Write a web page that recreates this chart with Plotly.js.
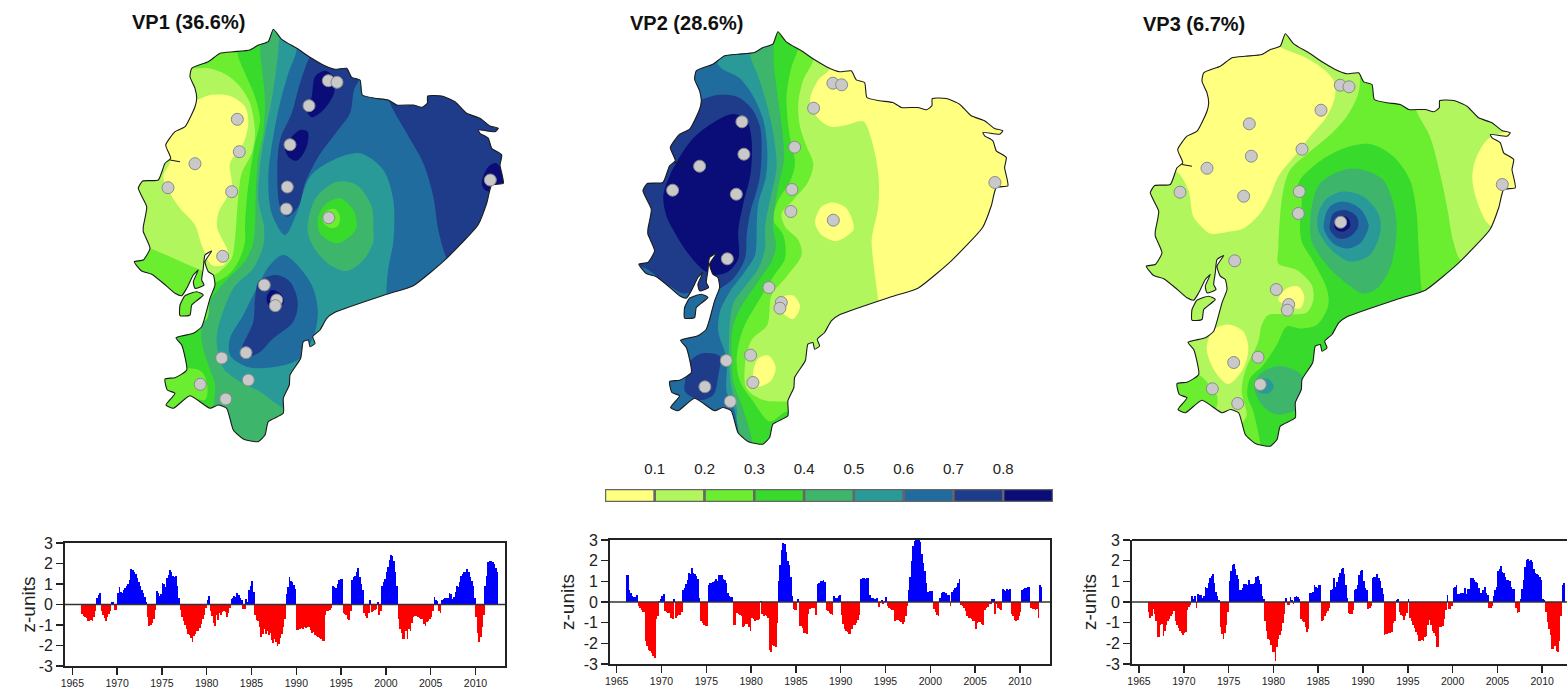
<!DOCTYPE html>
<html><head><meta charset="utf-8">
<script src="https://cdn.plot.ly/plotly-3.0.1.min.js"></script>
<style>html,body{margin:0;padding:0;background:#fff}</style></head>
<body><div id="chart" style="width:1567px;height:691px"></div>
<script>
const levelLabels = ["0.1","0.2","0.3","0.4","0.5","0.6","0.7","0.8"];
const levelTicks = [0.1,0.2,0.3,0.4,0.5,0.6,0.7,0.8];
const levelMids = [0.05,0.15,0.25,0.35,0.45,0.55,0.65,0.75,0.85];
const levelColors = ["#FFFF80","#B2F65E","#6CEE30","#38DA2B","#3DB66C","#2A9A99","#206C9F","#1E3C8A","#0A0D78"];
const titles = ["VP1 (36.6%)","VP2 (28.6%)","VP3 (6.7%)"];

// map outline, map units
const coast = [[273.3,29.3],[281.7,39.3],[296.7,48.3],[311.7,58.3],[323.3,65],[335,69.3],[346.7,68.3],[351.7,77.3],[360,80],[362.3,95],[375,98.3],[388.3,100],[396.7,105],[413.3,105],[421.7,107.3],[427.3,103.3],[427.7,96],[441.7,96],[455,101.7],[466.7,113.3],[480,118.3],[490,126],[498.3,128.3],[495,131.7],[478.3,130],[480,133.3],[488.3,138.3],[491.7,148.3],[501.7,155],[500,165],[503.3,183.3],[491.7,185],[486.7,203.3],[478,225],[446.7,258.3],[413.3,285.7],[386.7,294.3],[335,312.3],[326.7,318.3],[320,330],[312.7,336.7],[315,343.3],[310,346.7],[308.3,340],[303.3,341.7],[300.7,358.3],[290,375],[289.3,385],[283.3,398.3],[283.3,413.3],[268.3,421.7],[265,435],[258.3,441.7],[243.3,439],[233.3,430],[226.7,408.3],[218.3,405],[210,408.3],[190,395.7],[173.3,408.3],[166,405],[175,393.3],[167.3,390],[165,379],[175,377.7],[186.7,370],[181.7,345],[176,337.7],[193.3,333.3],[201.7,326.7],[210,298.3],[215,285],[213.3,275],[208.3,271.7],[205,261.7],[211.7,251],[205,255],[203.3,268.3],[201.7,280],[204,285],[195,288.3],[193.3,281.7],[198.3,270],[193.3,275],[186.7,288.3],[181.7,295.7],[175,293.3],[163.3,283.3],[151.7,274.3],[141.7,271],[134.3,261.7],[143.3,260],[150,248.3],[143.3,231.7],[143.3,226.7],[146.7,206.7],[138.3,188.3],[142.7,181],[158.3,180],[165,163.3],[170.7,158.3],[165.7,145],[175,131.7],[185,126.7],[195,106.7],[196.7,98.3],[195,88.3],[190,76.7],[191.7,68.3],[208.3,61.7],[220,53.3],[233.3,51.7],[250,50],[258.3,45],[268.3,41.7],[273.3,29.3]];
const island = [[180,305],[185,295.7],[196.7,291.7],[203.3,295],[191.7,305],[190,315],[180,315.7],[180,305]];
const pier = [[170,160],[180,161.7]];
const stationX = [328.3,337,309,237.3,290,239.3,195,168,231.7,287.3,286.3,328.7,490.3,222.7,264.3,276.7,275.3,246,221.7,248.3,200.3,225.7];
const stationY = [80.7,82.3,105.7,119.3,144.7,151.7,163.7,187.7,191.7,187,209,217.7,180,256.3,285,300,305.7,352.7,358,380,384.3,399];

// VP1 loading bands
const vp1_5 = [[280,20],[279.3,37.3],[277.3,60],[271.7,100],[265,133.3],[260,166.7],[258.3,200],[264,226.7],[263.3,245],[253.3,268.3],[233.3,288.3],[217.3,331.7],[217.3,348.3],[223.3,368.3],[240,381.7],[260,391.7],[273.3,401.7],[285,411.7],[290,460],[120,460],[120,20]];
const vp1_4 = [[262,20],[260,46.7],[261.7,66.7],[265,100],[263.3,133.3],[258.3,156.7],[256,186.7],[255,225],[252.7,245],[243.3,263.3],[226.7,280],[211.7,298.3],[201.7,328.3],[201.7,341.7],[208.3,365],[215,385],[213.3,408.3],[213,460],[120,460],[120,20]];
const vp1_3a = [[236,20],[237.3,53.3],[245,73.3],[255,96.7],[260,120],[255,143.3],[250,173.3],[246.7,200],[245,226.7],[245,241.7],[238.3,261.7],[228.3,275],[215,283.3],[210,290],[206,320],[170,322],[120,322],[120,20]];
const vp1_3b = [[160,378],[188.3,368.3],[201.7,371.7],[207.3,385],[205,400],[186.7,396.7],[173.3,410],[160,412]];
const vp1_2 = [[160,60],[190,68.3],[208.3,68.3],[226.7,75],[240,86.7],[250,103.3],[255,133.3],[251.7,153.3],[241.7,173.3],[238.3,196.7],[236,226.7],[235,238.3],[231.7,258.3],[223.3,268.3],[213.3,275],[196.7,268.3],[170,256.7],[150,248.3],[120,240],[120,60]];
const vp1_1 = [[195,100],[210,95],[230,96],[245,106.7],[248.3,123.3],[243.3,143.3],[230,163.3],[231.7,186.7],[218.3,213.3],[217.3,228.3],[228.3,253.3],[223.3,265],[211.7,265],[201.7,245],[195,225],[180,208.3],[170,193.3],[163.3,176.7],[170,160],[150,150],[150,100]];
const vp1_7 = [[292,35],[296.7,48.3],[288.3,73.3],[280,103.3],[272.7,140],[268.3,176.7],[271.7,213.3],[285,235],[296.7,213.3],[310,176.7],[333.3,160],[360,153.3],[383.3,170],[393.3,200],[393.3,241.7],[388.3,268.3],[386.7,294.3],[390,305],[520,300],[520,20],[292,20]];
const vp1_8a = [[310,56.7],[300,83.3],[291.7,113.3],[280,140],[277.3,173.3],[280,206.7],[286.7,216.7],[298.3,206.7],[305,183.3],[318.3,156.7],[336.7,131.7],[350,113.3],[354,90],[360,78],[365,60],[320,45]];
const vp1_8b = [[390,103.3],[406.7,133.3],[423.3,163.3],[433.3,196.7],[438.3,230],[446.7,258.3],[455,270],[530,270],[530,85],[385,85]];
const vp1_9a = [[315,76.7],[325,70.7],[333.3,76.7],[334,93.3],[323.3,110],[311.7,117.3],[306.7,110],[311.7,96.7]];
const vp1_9b = [[286.7,143.3],[300,130],[307.7,131.7],[306.7,146.7],[296.7,160.7],[288.3,156.7],[285,148.3]];
const vp1_9c = [[481.7,183.3],[488.3,166.7],[496.7,163.3],[505,185],[491.7,191.7],[485,190]];
const vp1_5b = [[308.3,220],[316.7,196.7],[336.7,181.7],[356.7,185],[371.7,206.7],[373.3,230],[373.3,241.7],[363.3,260],[346.7,271],[330,265],[316.7,251.7],[308.3,235]];
const vp1_4b = [[318.3,216.7],[326.7,203.3],[340,198.3],[353.3,210],[356.7,226.7],[351.7,235],[336.7,243.3],[320,233.3]];
const vp1_3c = [[323,222],[325,212],[335,209],[340,217],[338,226],[331,228]];
const vp1_7c = [[284,255],[310,281.7],[317.7,308.3],[315,331.7],[300,358.3],[276.7,366.7],[246.7,366.7],[230,355],[230,338.3],[243.3,315],[256.7,288.3],[270,265]];
const vp1_8c = [[263.3,278.3],[276.7,275],[290,281.7],[297.7,301.7],[293.3,321.7],[273.3,338.3],[258.3,353.3],[245,356.7],[241,351.7],[253.3,321.7],[255,298.3],[258.3,281.7]];
const vp1_9d = [[266.7,296.7],[271.7,290],[280,293.3],[284,301.7],[276.7,308.3],[268.3,305]];
const vp1Layers = [[4,vp1_5],[3,vp1_4],[2,vp1_3a],[2,vp1_3b],[1,vp1_2],[0,vp1_1],[6,vp1_7],[7,vp1_8a],[7,vp1_8b],[8,vp1_9a],[8,vp1_9b],[8,vp1_9c],[4,vp1_5b],[3,vp1_4b],[2,vp1_3c],[6,vp1_7c],[7,vp1_8c],[8,vp1_9d]];

// VP2 loading bands
const vp2_2 = [[330,20],[325.4,65.8],[313.7,77.5],[305.4,97.5],[312,114],[325.4,124],[342,122.5],[358.7,119],[367,137.5],[373.7,171],[373.7,204],[368.7,227.5],[367,239],[373.7,297.5],[375,310],[350,470],[100,470],[100,20]];
const vp2_1a = [[310.7,217.5],[317,204],[328.7,200],[342,206],[348.7,221],[348.7,227.5],[332,238.5],[317,232.5],[311,222.5]];
const vp2_1b = [[278.7,294],[288.7,293],[295.4,304],[288.7,316.5],[280.4,312.5],[272,302.5]];
const vp2_1c = [[248.7,369],[253.7,356],[263.7,353],[271,364],[267,377.5],[255.4,384],[250.4,382.5]];
const vp2_3 = [[310,20],[308.7,57.5],[298.7,77.5],[293.7,101],[295.4,124],[302,144],[308.7,161],[303.7,179],[288.7,197.5],[277,211],[280.4,224],[293.7,237.5],[297,252.5],[282,274],[267,292.5],[262.7,322.5],[247,337.5],[240.4,362.5],[242,386],[258.7,397.5],[282,399],[300,400],[300,470],[100,470],[100,20]];
const vp2_4 = [[296,20],[293.7,46],[287,64],[282,94],[284.7,131],[290.4,161],[285.4,179],[273.7,197.5],[268.7,217.5],[278.7,232.5],[280.4,256],[268.7,274],[253.7,299],[238.7,326],[232,356],[235.4,379],[248.7,399],[265.4,419],[282.7,409],[300,420],[300,470],[100,470],[100,20]];
const vp2_5 = [[266,20],[268.7,41],[269.4,64],[273.7,97.5],[278,131],[279.4,157.5],[273.7,184],[269.4,211],[268.7,227.5],[271.4,242.5],[267,259],[257,274],[245.4,291],[235.4,306],[228,326],[227,356],[228.7,379],[237,402.5],[245.4,429],[248,442.5],[250,470],[100,470],[100,20]];
const vp2_6 = [[243,20],[245.4,52.5],[253.7,74],[262,101],[268.7,131],[272,164],[267,191],[262,214],[260.4,227.5],[260.4,246],[253.7,266],[240.4,284],[228.7,301],[224.7,329],[224.7,362.5],[227,386],[232.7,409],[230.4,422.5],[225,470],[100,470],[100,20]];
const vp2_7 = [[210,20],[213.7,62.5],[235.4,76],[248.7,94],[258.7,117.5],[262.7,147.5],[261.4,174],[253.7,201],[252,227.5],[252,232.5],[250.4,252.5],[240.4,269],[225.4,289],[215.4,309],[213.7,329],[222,356],[222,389],[230.4,409],[230,470],[100,470],[100,20]];
const vp2_8 = [[160,97],[193.7,97.5],[212,92.5],[232,94],[247,106],[255.4,124],[257,151],[254.7,177.5],[245.4,211],[242.7,227.5],[242,232.5],[240.4,256],[228.7,276],[215.4,286],[208.7,289],[188.7,289],[178.7,291],[158.7,279],[138.7,265],[100,265],[100,100]];
const vp2_8b = [[185.4,359],[197,351],[215.4,354],[213.7,372.5],[208.7,392.5],[195.4,397.5],[180.4,389],[180.4,379]];
const vp2_9 = [[158.7,194],[165.4,172.5],[187,137.5],[210.4,119],[228.7,111.5],[242,117.5],[247,137.5],[246,171],[238.7,201],[233.7,227.5],[233.7,256],[223.7,269],[210.4,272.5],[198.7,267.5],[182,249],[168.7,227.5],[162,214]];
const vp2Layers = [[1,vp2_2],[0,vp2_1a],[0,vp2_1b],[0,vp2_1c],[2,vp2_3],[3,vp2_4],[4,vp2_5],[5,vp2_6],[6,vp2_7],[7,vp2_8],[7,vp2_8b],[8,vp2_9]];

// VP3 loading bands
const vp3_1a = [[268,42],[291.3,52],[308,62],[321.3,75.5],[323,92],[314.7,112],[298,132],[284.7,149],[266.3,172],[258,192],[248,209],[231.3,224],[218,227],[198,229],[188,220.5],[181.3,212],[176.3,185.5],[164.7,167],[140,160],[140,30],[260,30]];
const vp3_1b = [[479.7,132],[464.7,152],[460.3,172],[464.7,195.5],[476.3,219.5],[490,225],[530,200],[530,130]];
const vp3_3 = [[345,50],[348,70.5],[346.3,89],[334.7,112],[318,130.5],[298,147],[278,165.5],[271.3,185.5],[268,212],[266.3,244],[266.3,259],[284.7,265.5],[299.7,280.5],[301.3,295.5],[294.7,308],[278,310],[256.3,310.5],[249.7,320.5],[246.3,337],[233,367],[229.7,387],[234.7,410.5],[229.7,420.5],[225,470],[380,470],[400,320],[470,260],[449.7,257],[441.3,237],[438,220.5],[436.3,209],[428,169],[418,132],[404.7,107],[400,90]];
const vp3_1c = [[266.3,295.5],[274.7,284],[286.3,282],[292.3,292],[288,304],[278,302]];
const vp3_1d = [[194.7,344],[201.3,325.5],[216.3,320],[231.3,327],[236.3,344],[231.3,364],[216.3,379.5],[203,367]];
const vp3_4 = [[286.3,179],[304.7,159],[331.3,144],[358,139.5],[381.3,152],[398,175.5],[404.7,209],[406.3,237],[409.7,285.5],[412,295],[340,340],[310,370],[300,400],[290,450],[250,450],[248,437],[241.3,407],[235.3,390.5],[238,374],[251.3,360.5],[264.7,340.5],[274.7,322],[288,324],[304.7,320.5],[316.3,300.5],[314.7,284],[301.3,257],[289.7,237],[288,220.5],[289.7,195.5]];
const vp3_5 = [[299.7,202],[308,179],[331.3,165.5],[351.3,165.5],[371.3,175.5],[381.3,199],[384.7,225.5],[378,264],[364.7,284],[351.3,289],[334.7,279],[314.7,260.5],[299.7,237],[298,220.5]];
const vp3_6 = [[306.3,209],[314.7,194],[331.3,187],[351.3,192],[366.3,209],[368.7,225.5],[358,250.5],[338,257],[318,244],[306.3,225.5]];
const vp3_7 = [[312.3,215.5],[318,202],[331.3,197],[348,204],[356.3,219],[356.3,224],[348,239],[334.7,244],[321.3,239],[312.3,225.5]];
const vp3_8 = [[318,219],[321.3,209],[333,205.5],[344.7,212],[346.3,222],[338,232],[326.3,234],[318,225.5]];
const vp3_9 = [[322,219],[328,211.5],[336.3,214],[338,222],[331.3,227],[324,225]];
const vp3_5b = [[243,387],[243,377],[251.3,367],[268,361.5],[288,369],[292,377],[289.7,394],[283,405.5],[264.7,410],[251.3,402]];
const vp3_6b = [[248,375.5],[256.3,374.5],[262,382],[256.3,389],[246.3,387]];
const vp3_3b = [[164.7,377],[186.3,370.5],[196.3,379],[205.3,392],[203,405.5],[170,420],[155,400]];
const vp3Layers = [[0,vp3_1a],[0,vp3_1b],[2,vp3_3],[0,vp3_1c],[0,vp3_1d],[3,vp3_4],[4,vp3_5],[5,vp3_6],[6,vp3_7],[7,vp3_8],[8,vp3_9],[4,vp3_5b],[5,vp3_6b],[2,vp3_3b]];

// score series: six readings a year, first value 1966.0
const vp1Scores = [
-0.45,-0.55,-0.6,-0.65,-0.8,-0.8, -0.75,-0.8,-0.6,-0.3,0.3,0.45, 0.55,-0.3,-0.5,-0.65,-0.8,-0.6, -0.45,-0.3,0.1,0.1,-0.25,-0.25,
0.55,0.85,0.6,0.55,0.7,0.8, 0.9,1.0,1.2,1.75,1.7,1.6, 1.5,1.3,1.1,0.9,0.7,0.55, 0.35,0.1,-0.6,-1.05,-1.0,-0.9,
-0.7,-0.25,0.65,0.55,0.4,0.5, 1.05,1.0,0.85,1.3,1.45,1.7, 1.6,1.4,1.35,1.4,0.9,0.3, -0.25,-0.6,-0.8,-1.0,-1.2,-1.45,
-1.5,-1.65,-1.85,-1.55,-1.45,-1.3, -1.3,-1.15,-0.95,-0.7,-0.5,-0.15, 0.2,0.4,-0.3,-0.55,-0.9,-1.05, -0.5,-0.75,-0.4,-0.5,-0.35,-0.3,
-0.35,-0.6,-0.4,-0.15,0.25,0.3, 0.4,0.35,0.55,0.45,0.3,0.2, -0.2,-0.2,0.25,0.1,0.7,0.9, 1.15,0.6,-0.5,-0.75,-0.8,-1.1,
-1.6,-1.45,-1.2,-1.45,-1.3,-1.5, -1.4,-1.75,-1.9,-1.7,-1.85,-2.0, -1.95,-1.65,-1.45,-1.1,-0.7,0.5, 0.85,1.35,1.15,1.1,0.95,0.75,
-1.25,-1.25,-1.2,-1.15,-1.2,-1.1, -1.15,-1.1,-1.1,-1.25,-1.4,-1.35, -1.5,-1.55,-1.6,-1.65,-1.7,-1.8, -1.8,-0.5,-0.3,-0.3,-0.25,-0.15,
0.9,0.85,0.8,1.0,1.2,1.25, 1.25,-0.4,-0.45,-0.5,-0.7,-0.75, -0.3,1.2,1.35,1.4,1.6,1.8, 1.35,1.0,0.7,-0.4,-0.55,-0.65,
-0.4,0.2,-0.35,-0.3,-0.25,-0.2, 0.1,-0.5,-0.3,0.9,1.1,1.25, 1.6,1.85,2.15,2.4,2.35,2.1, 1.6,0.9,-0.7,-1.2,-1.4,-1.7,
-1.7,-1.3,-1.7,-1.2,-1.3,-0.9, -0.6,-0.55,-0.55,-0.6,-0.65,-0.7, -0.7,-0.95,-1.05,-0.85,-0.8,-0.7, -0.6,-0.3,0.35,0.2,0.15,-0.3,
-0.4,0.2,0.25,0.3,0.3,0.3, 0.55,0.5,0.25,0.35,0.6,0.9, 0.85,1.1,1.4,1.5,1.6,1.6, 1.75,1.6,1.35,1.15,0.9,0.3,
-0.6,-1.4,-1.85,-1.6,-1.1,-0.5, 0.9,1.4,2.05,2.1,2.1,2.05, 2.0,1.8,1.6];
const vp2Scores = [
1.3,1.3,0.6,0.45,0.3,0.25, 0.25,0.35,-0.2,-0.3,-0.4,-0.5, -0.5,-1.9,-2.15,-2.3,-2.35,-2.45, -2.6,-2.7,-0.8,-0.7,0.05,0.15,
0.3,0.4,-0.45,-0.5,-0.55,-0.55, -0.75,-0.8,0.15,-0.75,-0.7,-0.65, -0.65,-0.5,0.6,0.7,0.85,1.05, 1.4,1.35,1.65,1.4,1.35,1.25,
1.1,0.2,-0.9,-1.0,-1.1,-1.15, -1.15,0.8,0.9,0.9,0.95,1.0, 1.1,1.0,1.3,1.3,1.3,1.1, 1.05,0.9,0.45,0.3,0.25,0.25,
-1.1,-1.1,-0.55,-0.6,-0.65,-0.7, -1.2,-1.15,-1.05,-1.05,-1.2,-1.4, -0.75,-0.8,-0.9,-0.85,-0.85,-0.8, 0.05,-0.6,-0.7,-0.65,-0.7,-0.75,
-2.3,-2.4,-2.1,-2.15,-2.2,-1.0, 1.0,1.8,2.5,2.85,2.8,2.4, 2.0,1.8,1.2,0.3,-0.35,-0.4, -0.4,0.15,-1.15,-1.15,-1.25,-1.5,
-1.5,-1.55,-0.6,-0.35,-0.3,-0.3, -0.3,-0.65,0.85,0.9,1.0,1.0, 1.05,0.95,-0.4,-0.45,-0.55,-0.6, -0.65,0.3,0.2,0.2,0.3,0.35,
-0.65,-1.05,-1.3,-1.4,-1.45,-1.55, -1.55,-1.3,-1.1,-1.1,-1.0,-0.85, -0.65,1.1,1.15,1.15,1.1,1.15, 1.15,0.35,0.2,0.2,0.15,0.15,
0.2,-0.25,-0.05,0.1,-0.1,0.05, 0.25,-0.2,-0.3,-0.35,-0.4,-0.4, -0.9,-0.85,-0.85,-0.9,-0.95,-1.05, -0.95,-0.7,-0.2,0.6,1.2,2.0,
2.7,2.95,3,3,3,2.9, 2.3,1.9,1.5,0.9,0.5,0.55, 0.55,0.55,-0.35,-0.5,-0.65,-0.7, 0.2,0.45,0.5,0.5,0.45,0.35,
0.35,-0.2,0.5,0.6,0.7,0.75, 0.9,1.1,-0.15,-0.2,-0.3,-0.45, -0.7,-0.75,-0.75,-0.8,-0.9,-0.9, -1.3,-1.0,-0.95,-0.95,-1.05,-1.1,
-0.4,-0.3,-0.25,-0.1,-0.1,0.15, 0.15,-0.6,-0.1,-0.3,-0.35,-0.4, 0.65,0.6,0.55,0.65,0.6,0.65, -0.6,-0.7,-0.85,-0.9,-0.85,-0.7,
-0.5,0.6,0.65,0.7,0.7,0.75, 0.75,-0.3,-0.35,-0.35,-0.4,-0.35, -0.75,0.8,0.75];
const vp3Scores = [
-0.5,-0.75,-0.7,-0.35,-0.6,-0.9, -1.7,-1.7,-1.1,-1.05,-1.65,-1.4, -1.1,-0.9,-0.8,-0.7,-0.6,-0.45, -0.9,-1.1,-1.25,-1.4,-1.5,-1.6,
-1.5,-1.45,-0.4,-0.25,-0.15,0.3, 0.15,0.3,-0.3,0.4,0.35,0.35, 0.2,0.3,0.75,0.7,0.9,1.15, 1.25,1.35,0.9,0.5,0.3,0.1,
-1.2,-1.55,-1.8,-1.5,-1.1,-0.5, 1.0,1.5,1.8,1.85,1.6,1.3, 1.1,0.6,0.6,0.7,0.85,0.85, 0.8,1.05,0.85,0.85,0.85,0.9,
1.2,1.25,1.05,0.85,0.3,0.15, -0.9,-1.4,-1.8,-1.85,-2.1,-2.4, -2.4,-2.85,-2.2,-1.8,-1.6,-1.4, -1.0,-0.6,0.2,-0.15,-0.15,0.25,
0.1,-0.1,0.25,0.3,0.25,0.15, -0.8,-0.9,-0.95,-1.2,-1.45,-1.3, 0.45,0.45,0.5,0.8,0.75,0.7, 0.8,0.8,-0.9,-0.85,-0.7,-0.55,
-0.45,-0.3,0.6,0.65,1.15,0.75, 0.95,1.2,1.4,1.6,1.65,1.35, 0.8,0.2,-0.55,-0.6,-0.6,-0.4, 0.6,0.65,0.8,1.3,1.5,1.55,
1.0,0.7,0.6,-0.35,-0.3,-0.2, 1.15,1.2,1.2,1.35,1.15,1.0, 0.7,0.4,-1.6,-1.55,-1.55,-1.5, -1.5,-1.45,-1.0,-0.9,0.1,0.15,
-0.5,-0.65,-0.7,-0.85,-0.7,-0.55, 0.15,-0.75,-0.9,-1.1,-1.25,-1.45, -1.6,-1.9,-1.9,-1.85,-1.9,-1.7, -1.65,-1.1,-0.85,-1.1,-1.4,-1.5,
-1.65,-2.2,-2.2,-1.2,-1.2,-1.15, -0.8,-0.4,0.35,-0.35,-0.35,-0.2, 0.7,0.75,0.8,0.4,0.4,0.45, 0.45,0.45,0.7,0.4,0.65,0.65,
1.15,1.15,1.05,0.95,0.9,0.7, 0.45,0.45,0.6,0.75,0.45,0.35, -0.3,-0.3,-0.2,0.3,0.6,0.75, 1.5,1.6,1.75,1.45,1.4,1.2,
1.05,1.05,1.0,0.75,0.65,0.65, -0.3,-0.55,-0.5,0.15,0.65,1.05, 1.7,2.05,2.1,2.0,2.05,1.95, 1.6,1.4,1.35,1.3,1.2,1.05,
0.15,0.1,-0.5,-0.95,-1.3,-1.6, -2.25,-2.25,-2.15,-2.35,-2.4,-1.9, -0.7,0.8,0.9];
const scoreStart = 1966, scoreStep = 1/6;
const yearTicks = [1965,1970,1975,1980,1985,1990,1995,2000,2005,2010];
const scoreTicks = [-3,-2,-1,0,1,2,3];
const scoreTickText = ["-3","-2","-1","0","1","2","3"];

const W = 1567, H = 691;
const FONT = '"Liberation Sans", Arial, sans-serif';
const INK = '#222222';
const dom = (a,b,size) => [a/size, b/size];
const ydom = (top,bot) => [1-bot/H, 1-top/H];
const xs = p => p.map(q=>q[0]), ys = p => p.map(q=>q[1]);
const closed = p => p.concat([p[0]]);

const mapBox = {x0:125,x1:510,y0:15,y1:455};
const mapShift = [[0,0],[504.6,2.5],[1012,4.5]];
const baseLevel = [5,0,1];
const allLayers = [vp1Layers,vp2Layers,vp3Layers];
const coastLine = {width:0,shape:'spline',smoothing:0.5};

const data = [], layout = {
  width:W,height:H,autosize:false,margin:{l:0,r:0,t:0,b:0},
  paper_bgcolor:'#fff',plot_bgcolor:'rgba(0,0,0,0)',showlegend:false,
  font:{family:FONT,color:INK},bargap:0,shapes:[],annotations:[]
};

allLayers.forEach((layers,i)=>{
  const sx = i?String(i+1):'';
  const xa='x'+sx, ya='y'+sx;
  const [dx,dy]=mapShift[i];
  const pxL=Math.round(mapBox.x0+dx), pxR=Math.round(mapBox.x1+dx), pxT=Math.round(mapBox.y0+dy), pxB=Math.round(mapBox.y1+dy);
  const rx=[pxL-dx,pxR-dx], ry=[pxB-dy,pxT-dy];
  layout['xaxis'+sx]={visible:false,range:rx,domain:dom(pxL,pxR,W),fixedrange:true,anchor:ya};
  layout['yaxis'+sx]={visible:false,range:ry,domain:ydom(pxT,pxB),fixedrange:true,anchor:xa};
  const a=rx[0]-20,b=rx[1]+30,t=ry[1]-20,u=ry[0]+30;
  // base band fills the whole box, the white mask trims it to the country
  data.push({type:'scatter',mode:'lines',xaxis:xa,yaxis:ya,x:[a,b,b,a,a],y:[t,t,u,u,t],fill:'toself',fillcolor:levelColors[baseLevel[i]],line:{width:0},hoverinfo:'skip'});
  layers.forEach(([lvl,poly])=>{
    const c=closed(poly);
    data.push({type:'scatter',mode:'lines',xaxis:xa,yaxis:ya,x:xs(c),y:ys(c),fill:'toself',fillcolor:levelColors[lvl],line:{width:0,shape:'spline',smoothing:0.9},hoverinfo:'skip'});
  });
  const mx=[a,a,b,b,a,null].concat(xs(coast),[null],xs(island));
  const my=[t,u,u,t,t,null].concat(ys(coast),[null],ys(island));
  data.push({type:'scatter',mode:'lines',xaxis:xa,yaxis:ya,x:mx,y:my,fill:'toself',fillcolor:'#ffffff',line:coastLine,hoverinfo:'skip'});
  const ox=xs(coast).concat([null],xs(island),[null],xs(pier));
  const oy=ys(coast).concat([null],ys(island),[null],ys(pier));
  data.push({type:'scatter',mode:'lines',xaxis:xa,yaxis:ya,x:ox,y:oy,line:{color:'#1a1a1a',width:1.1,shape:'spline',smoothing:0.5},hoverinfo:'skip'});
  data.push({type:'scatter',mode:'markers',xaxis:xa,yaxis:ya,x:stationX,y:stationY,marker:{size:12,color:'#C9C9C9',line:{color:'#8a8a8a',width:1}},hoverinfo:'skip'});
});

// score panels
const panels = [
 {s:vp1Scores,l:65,r:505,t:543,b:666,x0:72.3,label:28,mirror:true},
 {s:vp2Scores,l:610,r:1050,t:540,b:664,x0:616.7,label:567,mirror:true},
 {s:vp3Scores,l:1132,r:1567,t:540,b:664,x0:1139,label:1089,mirror:false}
];
const pxPerYear = 8.96;
panels.forEach((p,i)=>{
  const n=String(i+4), xa='x'+n, ya='y'+n;
  const tx=p.s.map((_,k)=>scoreStart+k*scoreStep+scoreStep/2);
  data.push({type:'bar',xaxis:xa,yaxis:ya,x:tx,y:p.s,width:scoreStep*1.12,
    marker:{color:p.s.map(v=>v>=0?'#0000FF':'#FF0000'),line:{width:0}},hoverinfo:'skip'});
  layout['xaxis'+n]={range:[1965+(p.l-p.x0)/pxPerYear,1965+(p.r-p.x0)/pxPerYear],domain:dom(p.l,p.r,W),anchor:ya,
    tickmode:'array',tickvals:yearTicks,ticktext:yearTicks.map(String),ticks:'outside',ticklen:7,tickwidth:1.4,tickcolor:INK,
    showgrid:false,zeroline:false,showline:true,linecolor:INK,linewidth:1.8,mirror:p.mirror,
    tickfont:{size:10.5,family:FONT,color:INK},fixedrange:true};
  layout['yaxis'+n]={range:[-3,3],domain:ydom(p.t,p.b),anchor:xa,
    tickmode:'array',tickvals:scoreTicks,ticktext:scoreTickText,ticks:'outside',ticklen:7,tickwidth:1.4,tickcolor:INK,
    showgrid:false,zeroline:false,showline:true,linecolor:INK,linewidth:1.8,mirror:p.mirror,
    tickfont:{size:16,family:FONT,color:INK},fixedrange:true};
  layout.shapes.push({type:'line',xref:xa+' domain',yref:ya,x0:0,x1:1,y0:0,y1:0,line:{color:'#333',width:1.4},layer:'above'});
  if(!p.mirror) layout.shapes.push({type:'line',xref:xa+' domain',yref:ya+' domain',x0:0,x1:1,y0:1,y1:1,line:{color:INK,width:1.8},layer:'above'});
  layout.annotations.push({xref:'paper',yref:'paper',x:p.label/W,y:1-(p.t+p.b)/2/H,text:'z-units',showarrow:false,textangle:-90,font:{size:19,family:FONT,color:INK},xanchor:'center',yanchor:'middle'});
});

// colour key
data.push({type:'bar',xaxis:'x7',yaxis:'y7',x:levelMids,y:levelMids.map(()=>1),width:0.1,
  marker:{color:levelColors,line:{color:'#666666',width:2.4}},hoverinfo:'skip'});
layout.xaxis7={range:[0,0.9],domain:dom(605,1053,W),anchor:'y7',side:'top',tickmode:'array',tickvals:levelTicks,ticktext:levelLabels,
  ticks:'outside',ticklen:8,tickcolor:'rgba(0,0,0,0)',showgrid:false,zeroline:false,showline:false,tickfont:{size:15,family:FONT,color:INK},fixedrange:true};
layout.yaxis7={range:[0,1],domain:ydom(489,502),anchor:'x7',visible:false,fixedrange:true};

// titles
const titleLeft=[131,629,1142], titleY=[22,23,24];
titles.forEach((t,i)=>layout.annotations.push({xref:'paper',yref:'paper',x:titleLeft[i]/W,y:1-titleY[i]/H,text:'<b>'+t+'</b>',showarrow:false,xanchor:'left',yanchor:'middle',xshift:-1,font:{size:20,family:FONT,color:'#111'}}));

Plotly.newPlot('chart',data,layout,{staticPlot:true,displayModeBar:false});
</script></body></html>
